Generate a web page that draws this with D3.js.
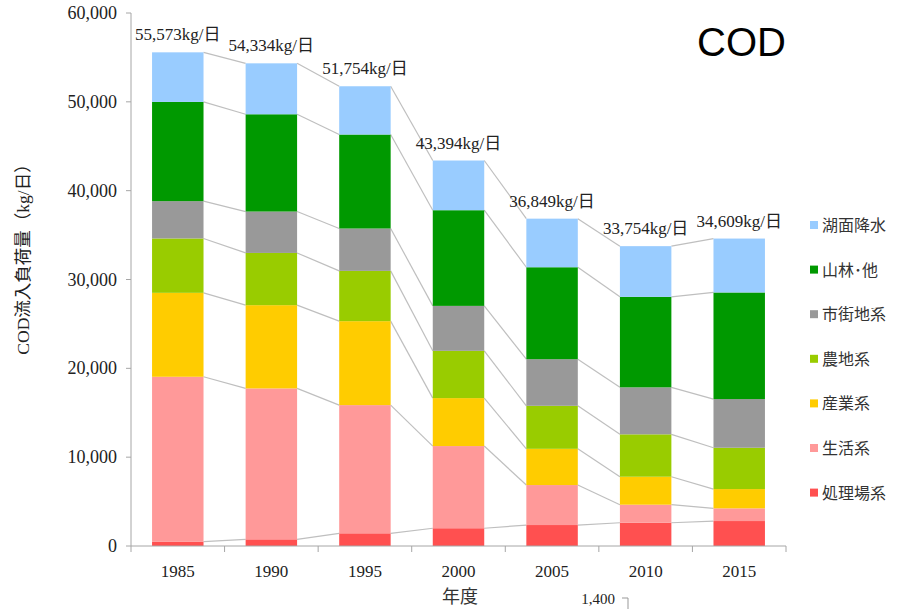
<!DOCTYPE html>
<html><head><meta charset="utf-8">
<script src="https://cdn.jsdelivr.net/npm/d3@7"></script>
<style>body{margin:0;background:#fff}svg{display:block}
.serif{font-family:"Liberation Serif","DejaVu Serif","Noto Sans CJK JP",serif}
.cjk{font-family:"Noto Sans CJK JP","Noto Sans",sans-serif}
</style>
</head><body>
<svg id="chart" width="898" height="609"></svg>
<script>
const years = ["1985","1990","1995","2000","2005","2010","2015"];
const seriesNames = ["処理場系","生活系","産業系","農地系","市街地系","山林･他","湖面降水"];
const seriesColors = ["#ff5050","#ff9999","#ffcc00","#99cc00","#999999","#009900","#99ccff"];
const shoriValues  = [500, 750, 1430, 2000, 2360, 2620, 2810];
const seikatsuValues = [18550, 16990, 14430, 9250, 4500, 2030, 1430];
const sangyoValues = [9450, 9370, 9450, 5400, 4080, 3150, 2170];
const nochiValues  = [6120, 5880, 5660, 5320, 4840, 4770, 4650];
const shigaichiValues = [4200, 4660, 4770, 5060, 5250, 5290, 5480];
const sanrinValues = [11170, 10950, 10580, 10770, 10350, 10190, 12000];
const komenValues  = [5583, 5734, 5434, 5594, 5469, 5704, 6069];
const totalLabels = ["55,573kg/日","54,334kg/日","51,754kg/日","43,394kg/日","36,849kg/日","33,754kg/日","34,609kg/日"];
const yTicks = [0,10000,20000,30000,40000,50000,60000];

const allSeries = [shoriValues, seikatsuValues, sangyoValues, nochiValues, shigaichiValues, sanrinValues, komenValues];
const table = years.map((y,i)=>{const o={year:y}; seriesNames.forEach((s,k)=>o[s]=allSeries[k][i]); return o;});
const stacked = d3.stack().keys(seriesNames)(table);

const svg = d3.select("#chart");
const x = d3.scaleBand().domain(years).range([131,786]).paddingInner(0.45).paddingOuter(0.225);
const y = d3.scaleLinear().domain([0,60000]).range([546,13]);
const axisColor = "#a6a6a6";

// connector lines
const levels = [];
stacked.forEach(layer=>{ levels.push(layer.map(d=>d[0])); });
levels.push(stacked[stacked.length-1].map(d=>d[1]));
const conn = svg.append("g");
levels.forEach((lv, li)=>{
  if(li===0) return;
  for(let i=0;i<years.length-1;i++){
    conn.append("line")
      .attr("x1", x(years[i])+x.bandwidth()).attr("y1", y(lv[i]))
      .attr("x2", x(years[i+1])).attr("y2", y(lv[i+1]))
      .attr("stroke","#bfbfbf").attr("stroke-width",1.2);
  }
});

// bars
svg.append("g").selectAll("g").data(stacked).join("g")
  .attr("fill",(d,i)=>seriesColors[i])
  .selectAll("rect").data(d=>d).join("rect")
  .attr("x",d=>x(d.data.year)).attr("width",x.bandwidth())
  .attr("y",d=>y(d[1])).attr("height",d=>y(d[0])-y(d[1]));

// axes
const ax = svg.append("g");
ax.append("line").attr("x1",131).attr("x2",131).attr("y1",y(60000)).attr("y2",y(0)).attr("stroke",axisColor);
ax.append("line").attr("x1",131).attr("x2",x.range()[1]).attr("y1",y(0)).attr("y2",y(0)).attr("stroke",axisColor);
yTicks.forEach(t=>{
  ax.append("line").attr("x1",126).attr("x2",131).attr("y1",y(t)).attr("y2",y(t)).attr("stroke",axisColor);
  ax.append("text").attr("class","serif").attr("x",117).attr("y",y(t)+6).attr("text-anchor","end")
    .attr("font-size",18).attr("fill","#222").text(d3.format(",")(t));
});
const step = x.step();
for(let i=0;i<=years.length;i++){
  const xx = x.range()[0] + i*step;
  ax.append("line").attr("x1",xx).attr("x2",xx).attr("y1",y(0)).attr("y2",y(0)+6).attr("stroke",axisColor);
}
years.forEach(yr=>{
  ax.append("text").attr("class","serif").attr("x",x(yr)+x.bandwidth()/2).attr("y",577).attr("text-anchor","middle")
    .attr("font-size",17).attr("fill","#222").text(yr);
});

// total labels
const tops = stacked[stacked.length-1];
years.forEach((yr,i)=>{
  svg.append("text").attr("class","serif").attr("x",x(yr)+x.bandwidth()/2).attr("y",y(tops[i][1])-12)
    .attr("text-anchor","middle").attr("font-size",17).attr("fill","#222")
    .text(totalLabels[i]);
});

// axis titles
svg.append("text").attr("class","serif").attr("transform","translate(29,255) rotate(-90)").attr("text-anchor","middle")
  .attr("font-size",17.5).attr("fill","#222").text("COD流入負荷量（kg/日）");
svg.append("text").attr("class","cjk").attr("x",460).attr("y",603).attr("text-anchor","middle")
  .attr("font-size",18).attr("fill","#333").text("年度");

// title
svg.append("text").attr("x",697).attr("y",56).attr("font-family","'Liberation Sans',Arial,sans-serif")
  .attr("font-size",40).attr("fill","#000").text("COD");

// stray label
svg.append("text").attr("class","serif").attr("x",615).attr("y",604).attr("text-anchor","end")
  .attr("font-size",15).attr("fill","#222").text("1,400");
svg.append("path").attr("d","M622,598 H628 V609").attr("fill","none").attr("stroke","#999");

// legend
const legendOrder = seriesNames.map((s,i)=>i).reverse();
const lg = svg.append("g");
legendOrder.forEach((si,k)=>{
  const cy = 225 + k*44.6;
  lg.append("rect").attr("x",810).attr("y",cy-4).attr("width",8).attr("height",8).attr("fill",seriesColors[si]);
  lg.append("text").attr("class","cjk").attr("x",822).attr("y",cy+6).attr("font-size",16).attr("fill","#333").text(seriesNames[si]);
});
</script>
</body></html>
